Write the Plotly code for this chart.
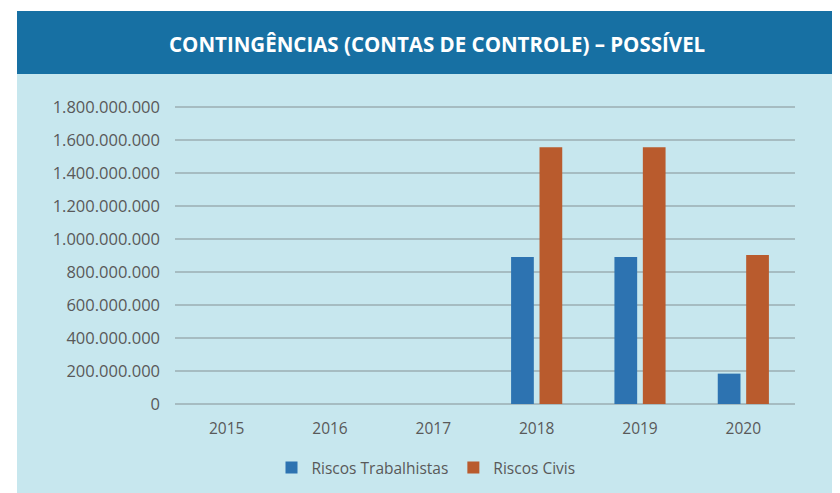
import plotly.graph_objects as go

years = ["2015", "2016", "2017", "2018", "2019", "2020"]
riscos_trabalhistas = [0, 0, 0, 891000000, 891000000, 184000000]
riscos_civis = [0, 0, 0, 1556000000, 1556000000, 903000000]
y_ticks = [0, 200000000, 400000000, 600000000, 800000000, 1000000000,
           1200000000, 1400000000, 1600000000, 1800000000]
y_max = 1830000000

# the page body has an 8px margin, so the figure starts at (8, 8) in the window
OFF = 8
W, H = 840 - OFF, 493 - OFF
# target window pixels for the plot area (1.800.000.000 gridline at y=107)
PX0, PX1, PY1 = 175, 795, 404
PY0 = round(PY1 - 297 * y_max / 1800000000)
L, R, T, B = PX0 - OFF, 840 - PX1, PY0 - OFF, 493 - PY1
pw, ph = PX1 - PX0, PY1 - PY0

def px_x(px):
    return (px - PX0) / pw

def px_y(py):
    return (PY1 - py) / ph

PANEL = "#C7E7EE"
HEADER = "#1770A3"
TXT = "#595959"

fig = go.Figure()
fig.add_trace(go.Bar(x=years, y=riscos_trabalhistas, name="Riscos Trabalhistas",
                     marker=dict(color="#2D73B1", line=dict(width=0))))
fig.add_trace(go.Bar(x=years, y=riscos_civis, name="Riscos Civis",
                     marker=dict(color="#B95B2D", line=dict(width=0))))

fig.update_layout(
    width=W, height=H,
    margin=dict(l=L, r=R, t=T, b=B, autoexpand=False),
    paper_bgcolor="white",
    plot_bgcolor=PANEL,
    separators=",.",
    barmode="group",
    bargap=0.45,
    bargroupgap=0.2,
    font=dict(family="Open Sans", color=TXT, size=15),
    showlegend=True,
    legend=dict(orientation="h", x=px_x(426), xanchor="center",
                y=px_y(468), yanchor="middle",
                font=dict(size=15.5, color=TXT), bgcolor="rgba(0,0,0,0)",
                traceorder="normal"),
    shapes=[
        dict(type="rect", xref="paper", yref="paper", layer="below",
             x0=px_x(17), x1=px_x(850), y0=px_y(500), y1=px_y(74),
             fillcolor=PANEL, line=dict(width=0)),
        dict(type="rect", xref="paper", yref="paper", layer="below",
             x0=px_x(17), x1=px_x(850), y0=px_y(74), y1=px_y(11),
             fillcolor=HEADER, line=dict(width=0)),
    ],
    annotations=[
        dict(text="<b>CONTINGÊNCIAS (CONTAS DE CONTROLE) – POSSÍVEL</b>",
             xref="paper", yref="paper", x=px_x(437), y=px_y(44),
             xanchor="center", yanchor="middle", showarrow=False,
             font=dict(family="Open Sans", size=20.5, color="white")),
    ],
)

fig.update_xaxes(showgrid=False, showline=False, ticks="",
                 tickfont=dict(size=15.5, color=TXT), ticklabelstandoff=13)
fig.update_yaxes(range=[0, y_max], tickvals=y_ticks, tickformat=",d",
                 showgrid=True, gridcolor="#A6BCC1", gridwidth=2,
                 zeroline=True, zerolinecolor="#A6BCC1", zerolinewidth=2,
                 showline=False, ticks="", tickfont=dict(size=16.5, color=TXT),
                 ticklabelstandoff=14)

fig.write_html("out.html")
